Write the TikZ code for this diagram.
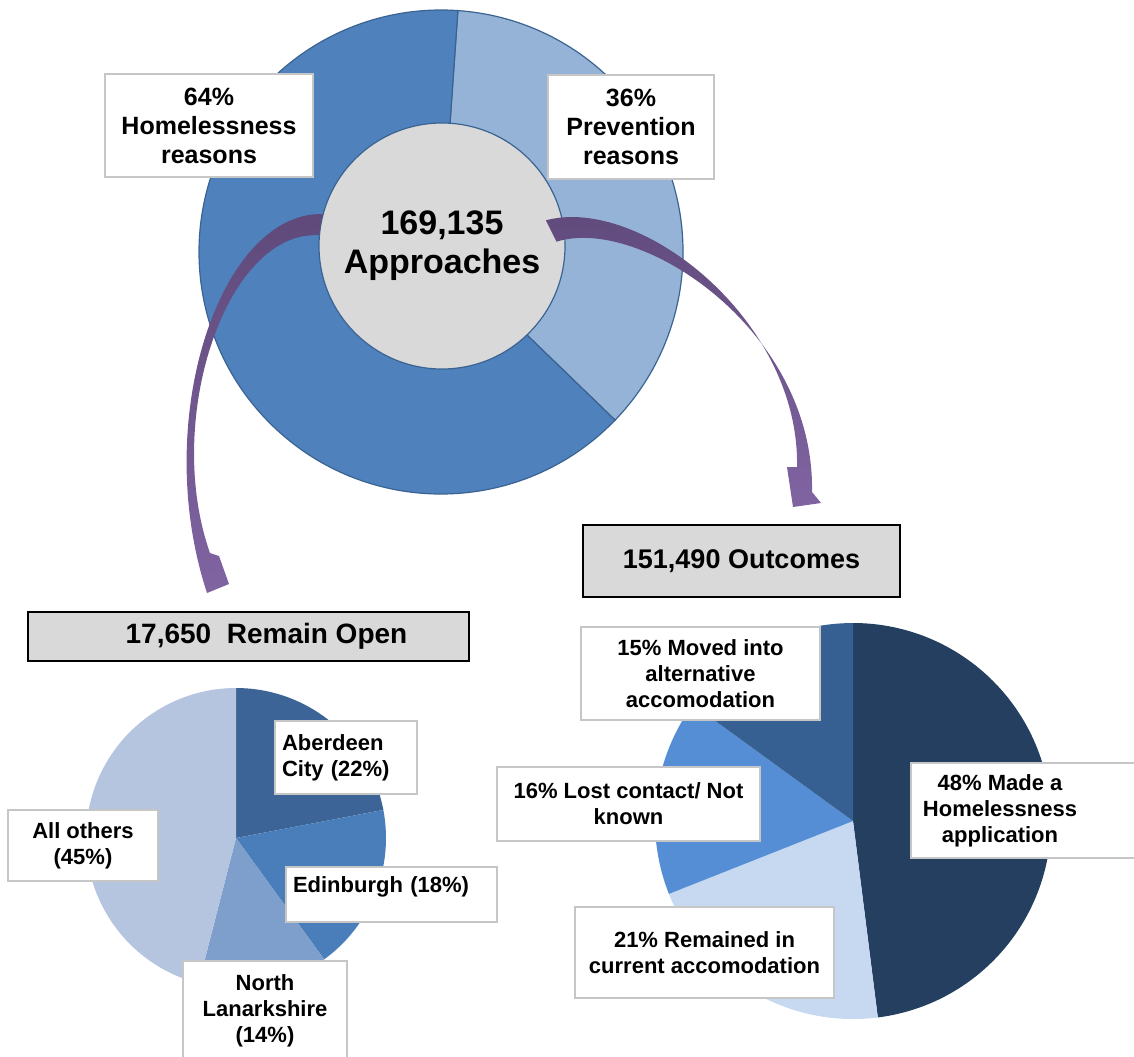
\documentclass[tikz,border=0pt]{standalone}
\usepackage{fontspec}
\setmainfont{Liberation Sans}
\usetikzlibrary{calc}

\definecolor{homeblue}{HTML}{4F81BD}
\definecolor{prevblue}{HTML}{95B3D7}
\definecolor{donutline}{HTML}{3B6392}
\definecolor{panelgray}{HTML}{D9D9D9}
\definecolor{arrowdark}{HTML}{5F497A}
\definecolor{arrowlight}{HTML}{8064A2}
\definecolor{aberCol}{HTML}{3C6496}
\definecolor{edinCol}{HTML}{4A7EBB}
\definecolor{nlanCol}{HTML}{7E9ECB}
\definecolor{otherCol}{HTML}{B5C4DF}
\definecolor{madeCol}{HTML}{243F60}
\definecolor{remCol}{HTML}{C6D9F1}
\definecolor{lostCol}{HTML}{558ED5}
\definecolor{movedCol}{HTML}{376092}

\tikzset{
  lbltext/.style={align=center, font=\bfseries\fontsize{11}{13}\selectfont},
  lbl/.style={lbltext, draw=gray!45, line width=1pt, fill=white, inner sep=2pt},
  toplbl/.style={lbl, font=\bfseries\fontsize{12.5}{14.5}\selectfont},
  titlebox/.style={draw=black, line width=1pt, fill=panelgray, font=\bfseries\fontsize{14}{16}\selectfont},
  slice/.style={draw=donutline, line width=.6pt},
  arrowshade/.style={top color=arrowdark, bottom color=arrowlight},
}

\begin{document}
\begin{tikzpicture}[x=0.5pt, y=-0.5pt]
	\useasboundingbox (0,0) rectangle (1134,1056);
%	\draw[gray!30, step=50] (0,0) grid (1134,1056);
	\coordinate (dc) at (441,252);
	\filldraw[slice, fill=prevblue] (dc) -- ++(-86:242) arc[start angle=-86, end angle=44, radius=242] -- cycle;
	\filldraw[slice, fill=homeblue] (dc) -- ++(44:242) arc[start angle=44, end angle=274, radius=242] -- cycle;
	\node[circle, slice, fill=panelgray, minimum size=123pt, inner sep=0pt, align=center,
	font=\bfseries\fontsize{17}{19.5}\selectfont] (appr) at (442,246) {169,135\\Approaches};
	
	\coordinate (openTip) at (207,593);
	\coordinate (outTip) at (821,503);
	\shade[arrowshade] (appr.165) .. controls (220,212) and (150,420) .. (openTip) -- (229,584) -- (219,556) -- (210,553)
	.. controls (163,420) and (226,230) .. (appr.175) -- cycle;
	\shade[arrowshade] ([xshift=-8.5pt]appr.12) .. controls (640,195) and (800,320) .. (797,467) -- (787,467) -- (793,507)
	-- (outTip) -- (812,492) .. controls (815,330) and (640,215) .. ([xshift=-4.5pt]appr.2) -- cycle;
	
	\node[toplbl, minimum width=104pt, minimum height=51.5pt] (homeBox) at (209,125.5) {64\%\\Homelessness\\reasons};
	\node[toplbl, minimum width=83pt, minimum height=52pt] (prevBox) at (631,127) {36\%\\Prevention\\reasons};
	
	\node[titlebox, minimum width=220.5pt, minimum height=24.5pt] (openBox) at (248.5,636.5) {\hspace*{18pt}17,650\ \ Remain Open};
	\node[titlebox, font=\bfseries\fontsize{13.5}{16}\selectfont, minimum width=158.5pt, minimum height=36pt] (outBox) at (741.5,561) {151,490 Outcomes};
	
	% remain open pie
	\coordinate (pc) at (236,838);
	\foreach \a/\b/\c in {-90/-10.8/aberCol, -10.8/54/edinCol, 54/104.4/nlanCol, 104.4/270/otherCol}
	\fill[\c] (pc) -- ++(\a:150) arc[start angle=\a, end angle=\b, radius=150] -- cycle;
	% outcomes pie
	\coordinate (qc) at (853,821);
	\foreach \a/\b/\c in {-90/82.8/madeCol, 82.8/158.4/remCol, 158.4/216/lostCol, 216/270/movedCol}
	\fill[\c] (qc) -- ++(\a:198) arc[start angle=\a, end angle=\b, radius=198] -- cycle;
	
	\node[lbl, text width=64pt, align=left, minimum width=71pt, minimum height=36.5pt] (aberd) at (346,757.5) {Aberdeen\\City (22\%)};
	\node[lbl, minimum width=75pt, minimum height=35.5pt] (others) at (83,845.5) {All others\\(45\%)};
	\node[lbl, text width=98.5pt, align=left, text height=12.5pt, text depth=15pt, inner ysep=0pt, minimum width=105.5pt] (edinb) at (391.5,894.5) {Edinburgh (18\%)};
	\node[lbl, minimum width=82pt, minimum height=49.5pt] (northl) at (265,1010.5) {North\\Lanarkshire\\(14\%)};
	
	\node[lbl, minimum width=119.5pt, minimum height=46.5pt] (moved) at (700.5,673.5) {15\% Moved into\\alternative\\accomodation};
	\node[lbl, minimum width=131.5pt, minimum height=37pt] (lost) at (628.5,804) {16\% Lost contact/ Not\\known};
	\node[lbl, minimum width=129.5pt, minimum height=45.5pt] (remained) at (704.5,952.5) {21\% Remained in\\current accomodation};
	\node[lbl, minimum width=120pt, minimum height=47.5pt] (madeBox) at (1031,810.5) {};
	\node[lbltext] (made) at (1000,810.5) {48\% Made a\\Homelessness\\application};
\end{tikzpicture}
\end{document}
